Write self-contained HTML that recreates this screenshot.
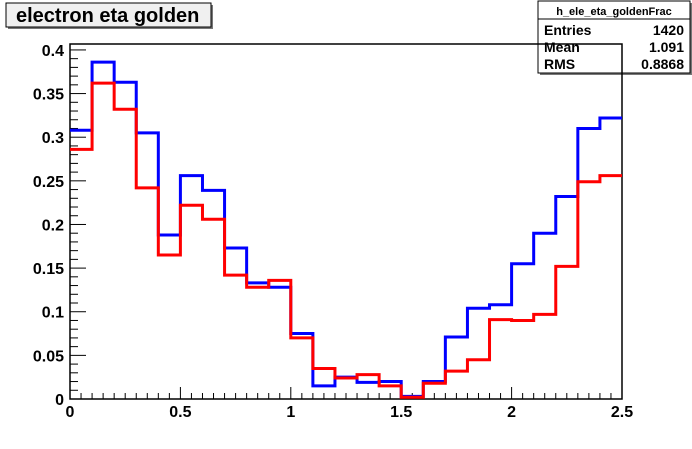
<!DOCTYPE html>
<html><head><meta charset="utf-8"><style>
body{margin:0;background:#fff;}
svg{font-family:"Liberation Sans",sans-serif;}
</style></head><body>
<svg width="692" height="444" viewBox="0 0 692 444">
<rect x="0" y="0" width="692" height="444" fill="#fff"/>
<g>
<rect x="8" y="5" width="205" height="24" fill="#777"/>
<rect x="6" y="3" width="205" height="24" fill="#f0f0f0" stroke="#000" stroke-width="1"/>
<text x="16" y="22" font-size="20" font-weight="bold">electron eta golden</text>
</g>
<g>
<rect x="540" y="3" width="152" height="72" fill="#777"/>
<rect x="538" y="1" width="152" height="72" fill="#fff" stroke="#000"/>
<text x="614" y="15" font-size="11" font-weight="bold" text-anchor="middle">h_ele_eta_goldenFrac</text>
<line x1="538" y1="19" x2="690" y2="19" stroke="#000"/>
<text x="544" y="35" font-size="14" font-weight="bold">Entries</text><text x="684" y="35" font-size="14" font-weight="bold" text-anchor="end">1420</text>
<text x="544" y="52" font-size="14" font-weight="bold">Mean</text><text x="684" y="52" font-size="14" font-weight="bold" text-anchor="end">1.091</text>
<text x="544" y="69" font-size="14" font-weight="bold">RMS</text><text x="684" y="69" font-size="14" font-weight="bold" text-anchor="end">0.8868</text>
</g>
<g id="axes"></g>
<g id="series"></g>
</svg>
<script>
const binEdgesStart = 0;
const binWidth = 0.1;
const blueValues = [0.308,0.386,0.363,0.305,0.188,0.256,0.239,0.173,0.133,0.128,0.075,0.015,0.025,0.019,0.020,0.003,0.020,0.071,0.104,0.108,0.155,0.190,0.232,0.310,0.322];
const redValues = [0.286,0.362,0.332,0.242,0.165,0.222,0.206,0.142,0.128,0.136,0.070,0.035,0.024,0.028,0.015,0.002,0.018,0.032,0.045,0.091,0.090,0.097,0.152,0.249,0.256];
const xTickLabels = ["0","0.5","1","1.5","2","2.5"];
const yTickLabels = ["0","0.05","0.1","0.15","0.2","0.25","0.3","0.35","0.4"];
const X0=70,X1=622,Y0=399,Y1=44, xmin=0,xmax=2.5,ymin=0,ymax=0.4068;
const sx=v=>X0+(v-xmin)/(xmax-xmin)*(X1-X0);
const sy=v=>Y0-(v-ymin)/(ymax-ymin)*(Y0-Y1);
const NS="http://www.w3.org/2000/svg";
function mk(t,a,p){const e=document.createElementNS(NS,t);for(const k in a)e.setAttribute(k,a[k]);p.appendChild(e);return e;}
const ax=document.getElementById('axes');
const fr=mk('rect',{x:X0,y:Y1,width:X1-X0,height:Y0-Y1,fill:'none',stroke:'#000','stroke-width':1.5},ax);


for(let i=0;i<=50;i++){const v=i*0.05;const x=sx(v);const big=i%10==0;
 const t=mk('line',{x1:x,y1:Y0,x2:x,y2:Y0-(big?12:6),stroke:'#000'},ax);
 
 }
xTickLabels.forEach(l=>{const t=mk('text',{x:sx(parseFloat(l)),y:Y0+18,'font-size':16,'font-weight':'bold','text-anchor':'middle'},ax);t.textContent=l;
 
 });
for(let i=0;i<=40;i++){const v=i*0.01;const y=sy(v);if(y<Y1)break;const big=i%5==0;
 const t=mk('line',{x1:X0,y1:y,x2:X0+(big?16:8),y2:y,stroke:'#000'},ax);
 
 }
yTickLabels.forEach(l=>{const t=mk('text',{x:X0-6,y:sy(parseFloat(l))+6,'font-size':16,'font-weight':'bold','text-anchor':'end'},ax);t.textContent=l;
 
 });
const sg=document.getElementById('series');
function step(vals,color,name){let d='';vals.forEach((v,i)=>{const xa=sx(binEdgesStart+i*binWidth),xb=sx(binEdgesStart+(i+1)*binWidth),y=sy(v);d+=(i==0?'M':'L')+xa+','+y+'L'+xb+','+y;});
 const p=mk('path',{d:d,fill:'none',stroke:color,'stroke-width':3},sg);
 
 }
step(blueValues,'#0000ff','blue-histogram');
step(redValues,'#ff0000','red-histogram');
</script>
</body></html>
